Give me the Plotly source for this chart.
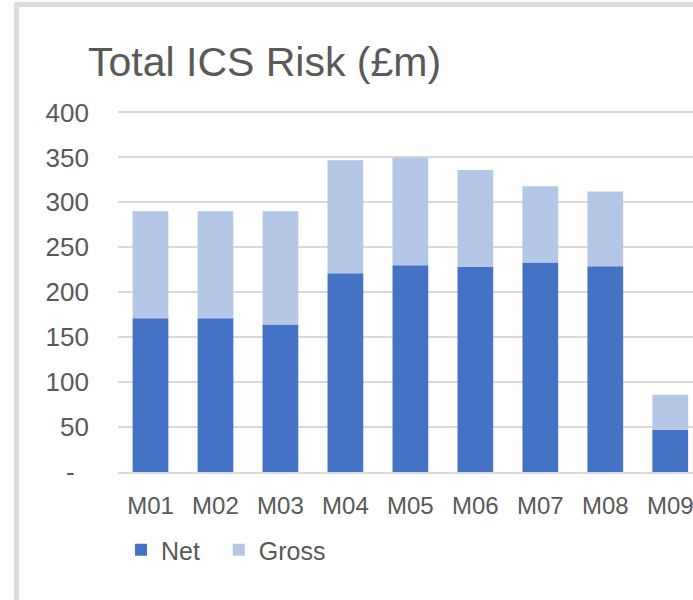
import plotly.graph_objects as go

months = ["M01", "M02", "M03", "M04", "M05", "M06", "M07", "M08", "M09"]
net = [171, 171, 164, 221, 230, 228, 233, 229, 47]
gross = [290, 290, 290, 347, 350, 336, 318, 312, 86]
y_ticks = [0, 50, 100, 150, 200, 250, 300, 350, 400]
y_ticktext = ["-\u00a0\u00a0", "50", "100", "150", "200", "250", "300", "350", "400"]

NET_COLOR = "#4472C4"
GROSS_COLOR = "#B4C7E7"
TEXT = "#595959"
FONT = "Liberation Sans, Arial, sans-serif"

W, H = 693, 600
L, R, T, B = 118, 0, 108, 128
pw, ph = W - L - R, H - T - B

def px_x(px):
    return (px - L) / pw

def px_y(py):
    return (H - B - py) / ph

gross_part = [g - n for g, n in zip(gross, net)]

fig = go.Figure()
fig.add_trace(go.Bar(x=months, y=net, name="Net\u00a0\u00a0",
                     marker=dict(color=NET_COLOR, line=dict(width=0))))
fig.add_trace(go.Bar(x=months, y=gross_part, base=net, name="Gross",
                     marker=dict(color=GROSS_COLOR, line=dict(width=0))))

fig.update_layout(
    width=W, height=H,
    margin=dict(l=L, r=R, t=T, b=B, pad=0),
    paper_bgcolor="white", plot_bgcolor="white",
    barmode="overlay", bargap=0.45,
    font=dict(family=FONT, color=TEXT, size=25),
    title=dict(text="Total ICS Risk (£m)", font=dict(family=FONT, size=41, color=TEXT),
               xref="container", x=88 / W, xanchor="left",
               yref="container", y=1 - 62 / H, yanchor="middle"),
    showlegend=True,
    legend=dict(orientation="h", xref="container", yref="container",
                x=121 / W, xanchor="left", y=1 - 550 / H, yanchor="middle",
                font=dict(family=FONT, size=25, color=TEXT),
                traceorder="normal", itemwidth=30,
                bgcolor="rgba(0,0,0,0)"),
    xaxis=dict(range=[-0.5, 8.35], showgrid=False, showline=True, linecolor="#D9D9D9",
               linewidth=2, ticks="", tickfont=dict(size=24, color=TEXT),
               ticklabelstandoff=11, fixedrange=True),
    yaxis=dict(range=[0, 405], tickvals=y_ticks, ticktext=y_ticktext,
               showgrid=True, gridcolor="#D9D9D9", gridwidth=1.5, zeroline=False,
               showline=False, ticks="", tickfont=dict(size=26, color=TEXT),
               ticklabelstandoff=28, fixedrange=True),
    shapes=[dict(type="rect", xref="paper", yref="paper",
                 x0=px_x(16.5), x1=px_x(760), y0=px_y(650), y1=px_y(4.5),
                 line=dict(color="#DCDCDC", width=5), fillcolor="rgba(0,0,0,0)", layer="below")],
)

fig.write_html("out.html", config={"displayModeBar": False},
               post_script="document.body.style.margin='0';document.body.style.overflow='hidden';")
